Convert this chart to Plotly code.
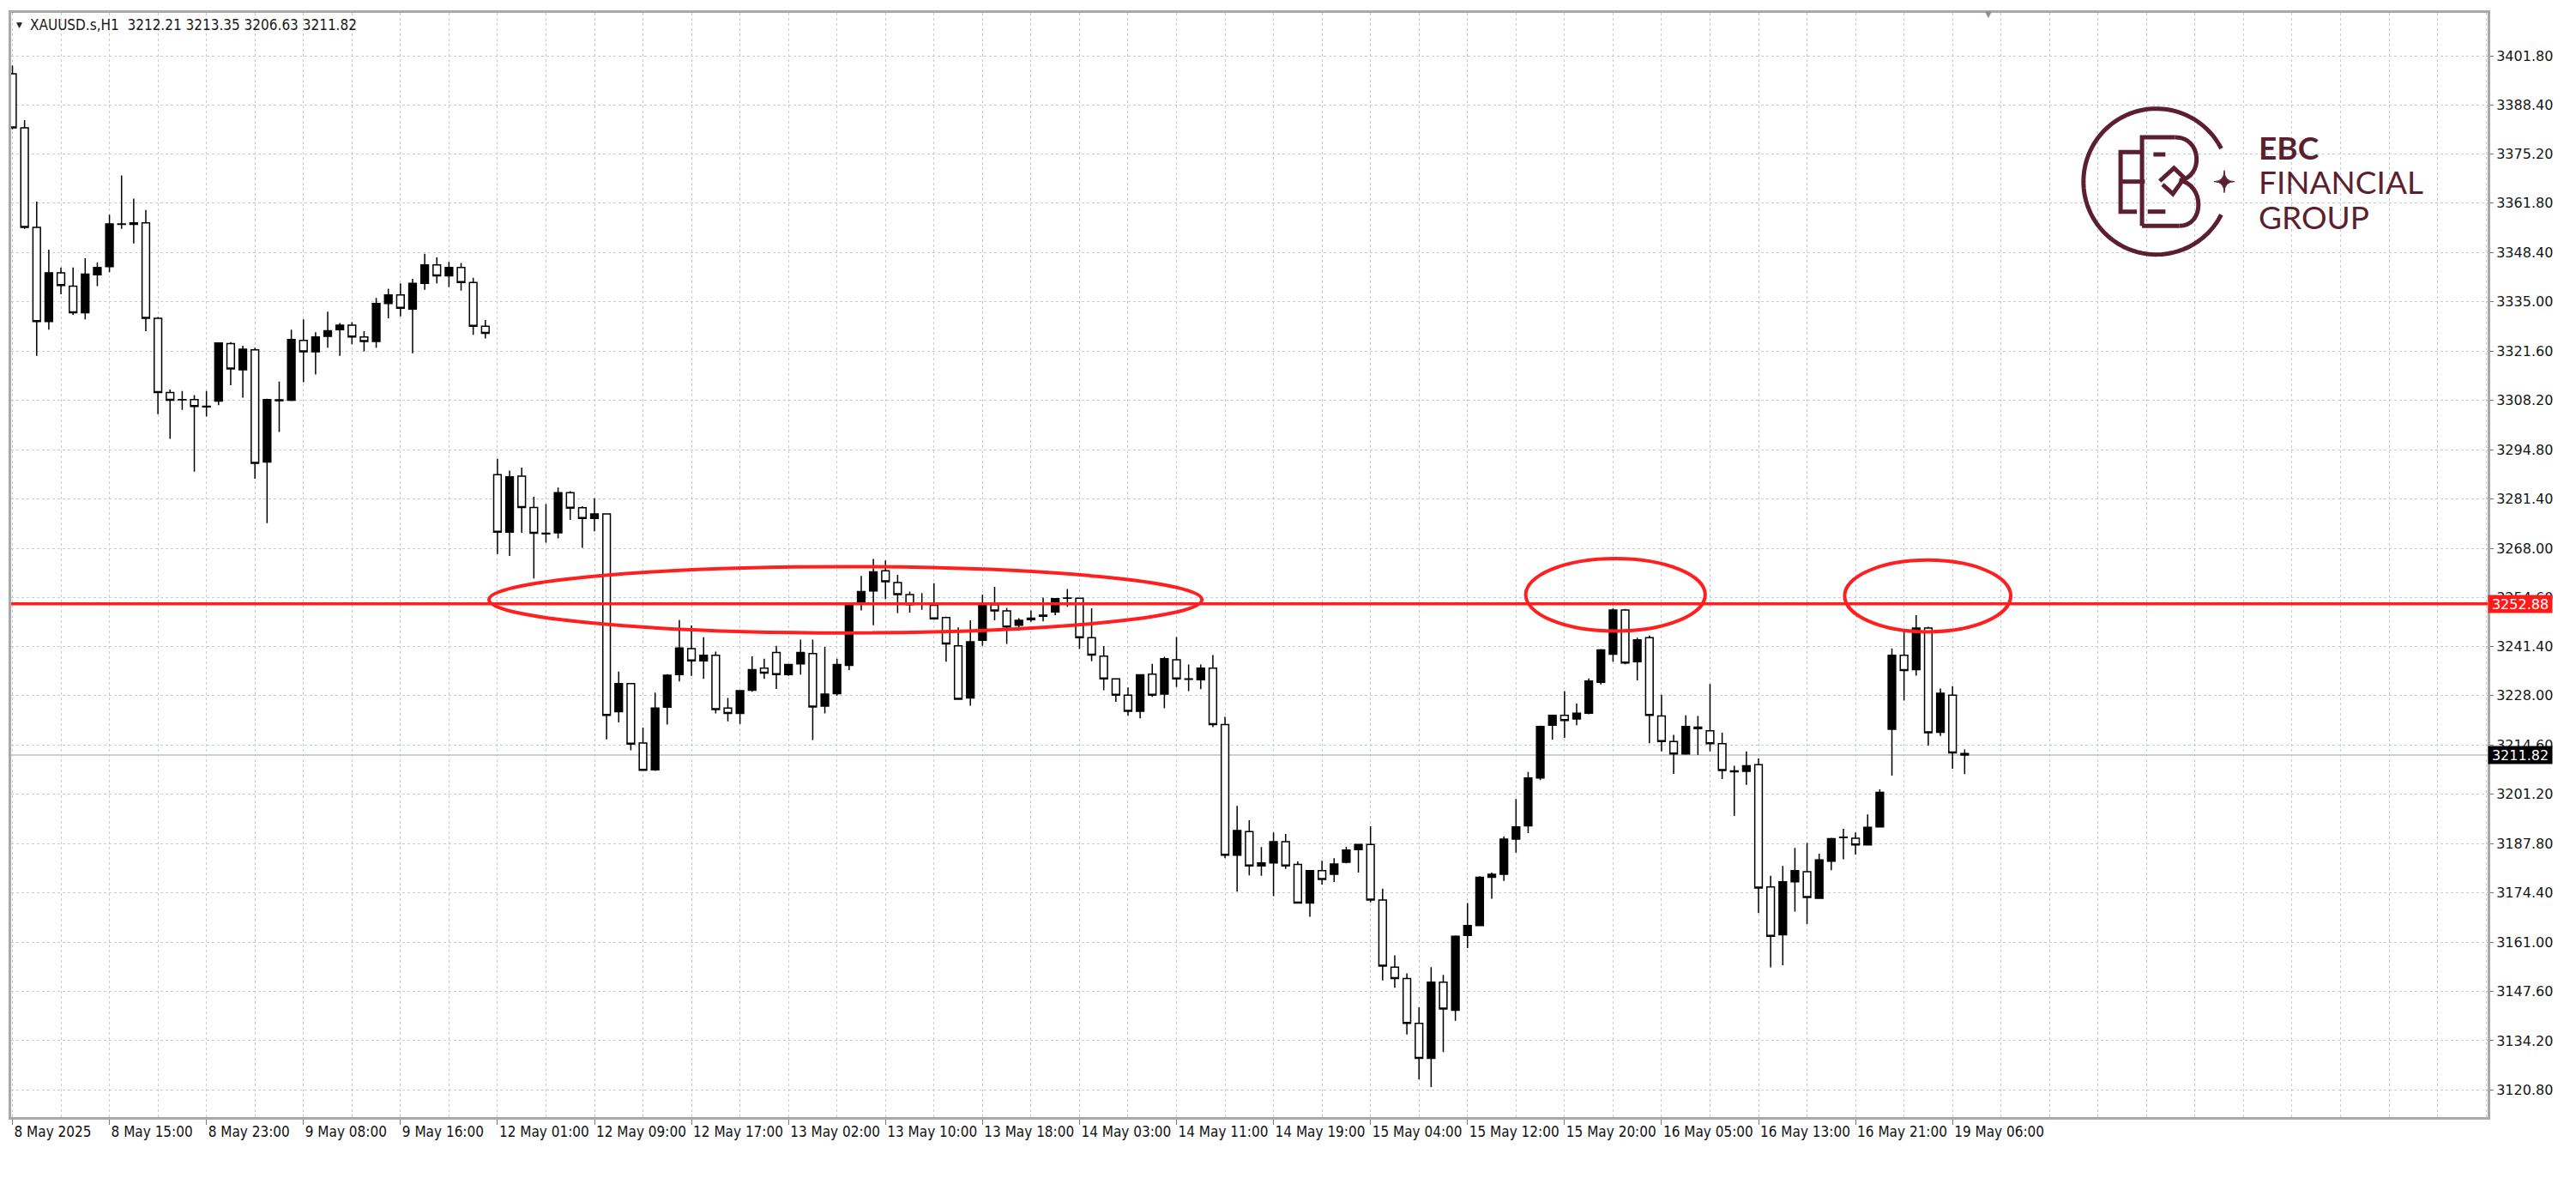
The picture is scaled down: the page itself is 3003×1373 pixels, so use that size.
import math
import plotly.graph_objects as go

# ---------------- data ----------------
x_labels = ["8 May 2025", "8 May 15:00", "8 May 23:00", "9 May 08:00", "9 May 16:00",
            "12 May 01:00", "12 May 09:00", "12 May 17:00", "13 May 02:00", "13 May 10:00",
            "13 May 18:00", "14 May 03:00", "14 May 11:00", "14 May 19:00", "15 May 04:00",
            "15 May 12:00", "15 May 20:00", "16 May 05:00", "16 May 13:00", "16 May 21:00",
            "19 May 06:00"]
y_labels = ["3401.80", "3388.40", "3375.20", "3361.80", "3348.40", "3335.00", "3321.60",
            "3308.20", "3294.80", "3281.40", "3268.00", "3254.60", "3241.40", "3228.00",
            "3214.60", "3201.20", "3187.80", "3174.40", "3161.00", "3147.60", "3134.20",
            "3120.80"]

opens = [3396.9, 3382.2, 3355.2, 3329.6, 3342.8, 3339.2, 3332.0, 3342.3, 3344.5, 3356.1,
         3356.0, 3356.4, 3330.5, 3310.3, 3308.3, 3308.4, 3306.6, 3308.0, 3323.6, 3316.5,
         3321.9, 3291.4, 3308.3, 3308.2, 3324.5, 3321.4, 3325.6, 3327.4, 3328.6, 3325.4,
         3324.2, 3334.5, 3336.8, 3333.0, 3340.0, 3345.0, 3342.0, 3344.3, 3340.2, 3328.3,
         3288.0, 3272.4, 3287.6, 3279.1, 3272.1, 3272.2, 3283.1, 3279.0, 3276.1, 3277.3,
         3223.6, 3231.2, 3215.1, 3207.8, 3224.8, 3233.7, 3240.7, 3237.4, 3238.9, 3224.6,
         3223.1, 3229.4, 3235.4, 3239.7, 3233.7, 3236.6, 3239.4, 3225.1, 3228.5, 3236.2,
         3253.1, 3256.4, 3261.9, 3258.7, 3255.4, 3253.0, 3252.5, 3249.2, 3241.5, 3227.3,
         3243.0, 3252.7, 3251.0, 3247.1, 3248.6, 3249.5, 3250.7, 3254.4, 3254.4, 3243.7,
         3238.7, 3232.5, 3228.1, 3223.7, 3233.8, 3228.4, 3237.7, 3232.5, 3232.3, 3235.4,
         3220.1, 3184.6, 3191.0, 3181.7, 3182.5, 3188.3, 3182.1, 3171.6, 3180.4, 3179.4,
         3182.7, 3186.1, 3187.5, 3172.4, 3154.2, 3151.1, 3138.9, 3129.4, 3150.1, 3142.5,
         3162.8, 3165.5, 3178.6, 3179.4, 3189.0, 3192.6, 3205.6, 3219.9, 3222.6, 3221.6,
         3223.2, 3231.6, 3239.2, 3251.2, 3237.2, 3243.7, 3222.4, 3215.5, 3212.1, 3219.4,
         3218.4, 3214.9, 3207.5, 3207.4, 3209.2, 3176.0, 3163.0, 3177.4, 3180.1, 3172.9,
         3183.0, 3189.4, 3189.2, 3187.4, 3192.3, 3218.8, 3238.9, 3235.0, 3246.3, 3218.0,
         3228.1, 3212.21]
highs = [3399.1, 3384.3, 3362.2, 3349.1, 3344.3, 3344.3, 3346.8, 3345.7, 3358.6, 3369.3,
         3363.0, 3359.9, 3330.8, 3311.1, 3310.7, 3309.6, 3310.7, 3323.9, 3324.0, 3323.0,
         3322.5, 3308.6, 3313.3, 3327.4, 3330.2, 3326.7, 3332.3, 3329.2, 3329.4, 3327.0,
         3336.0, 3338.5, 3340.0, 3341.2, 3348.0, 3347.0, 3345.8, 3345.5, 3341.5, 3330.0,
         3292.3, 3289.1, 3289.9, 3282.0, 3280.0, 3284.5, 3283.5, 3279.4, 3281.6, 3277.4,
         3234.5, 3231.3, 3219.3, 3228.8, 3233.8, 3248.5, 3247.0, 3243.8, 3239.9, 3227.3,
         3229.5, 3238.6, 3238.0, 3241.5, 3236.6, 3243.2, 3243.2, 3241.2, 3238.0, 3252.9,
         3260.5, 3265.1, 3264.7, 3260.8, 3256.2, 3255.8, 3258.5, 3249.4, 3246.5, 3248.4,
         3255.4, 3257.5, 3251.8, 3249.0, 3251.1, 3254.6, 3254.5, 3256.9, 3254.6, 3251.7,
         3241.4, 3232.6, 3230.2, 3233.8, 3236.6, 3238.5, 3243.9, 3236.4, 3236.4, 3239.0,
         3222.2, 3198.0, 3194.1, 3186.8, 3190.8, 3190.4, 3182.9, 3180.6, 3183.1, 3183.8,
         3186.9, 3187.6, 3192.5, 3175.5, 3157.4, 3152.5, 3143.3, 3154.2, 3152.1, 3162.8,
         3171.6, 3178.9, 3179.9, 3189.7, 3199.9, 3207.2, 3219.8, 3222.8, 3229.2, 3225.8,
         3232.6, 3240.6, 3251.7, 3251.5, 3243.7, 3244.3, 3228.2, 3217.3, 3222.6, 3222.4,
         3231.1, 3217.9, 3208.9, 3212.8, 3210.9, 3179.0, 3181.7, 3186.6, 3187.9, 3185.0,
         3189.3, 3191.8, 3190.8, 3195.7, 3202.5, 3240.8, 3245.5, 3249.8, 3246.7, 3229.9,
         3230.5, 3213.35]
lows = [3381.8, 3354.8, 3320.3, 3327.4, 3337.0, 3331.4, 3330.2, 3339.2, 3343.0, 3354.8,
        3350.8, 3327.0, 3304.4, 3297.7, 3305.6, 3288.8, 3303.8, 3306.9, 3312.3, 3308.9,
        3286.9, 3274.8, 3299.6, 3308.0, 3313.1, 3315.2, 3322.5, 3320.3, 3323.4, 3321.5,
        3322.5, 3330.5, 3331.0, 3321.0, 3338.2, 3340.0, 3339.0, 3338.0, 3326.0, 3325.0,
        3266.4, 3265.9, 3272.2, 3259.8, 3269.5, 3270.7, 3275.7, 3268.1, 3272.6, 3216.1,
        3220.7, 3213.1, 3207.5, 3207.5, 3220.1, 3231.8, 3233.3, 3232.5, 3223.1, 3221.0,
        3220.3, 3229.0, 3232.5, 3229.8, 3233.3, 3233.7, 3215.9, 3223.1, 3227.9, 3234.9,
        3251.1, 3247.1, 3254.2, 3250.4, 3250.5, 3251.3, 3248.6, 3237.2, 3226.8, 3225.2,
        3241.5, 3248.4, 3242.0, 3245.7, 3248.0, 3248.1, 3249.8, 3252.1, 3240.6, 3237.3,
        3229.4, 3226.3, 3222.5, 3221.8, 3227.6, 3224.5, 3230.3, 3229.2, 3229.7, 3219.4,
        3183.8, 3174.7, 3179.1, 3179.0, 3173.5, 3180.9, 3171.5, 3167.9, 3176.6, 3177.3,
        3182.4, 3179.9, 3171.8, 3150.6, 3148.6, 3135.9, 3123.7, 3121.6, 3131.1, 3139.6,
        3159.4, 3165.3, 3172.8, 3177.6, 3185.3, 3190.6, 3205.0, 3216.0, 3216.5, 3219.9,
        3222.9, 3231.0, 3237.2, 3236.5, 3232.1, 3215.0, 3212.8, 3206.7, 3211.9, 3211.8,
        3212.8, 3205.3, 3195.3, 3203.7, 3168.9, 3154.1, 3154.7, 3169.3, 3165.9, 3172.7,
        3180.5, 3183.5, 3184.8, 3187.2, 3192.1, 3206.2, 3226.6, 3233.4, 3214.4, 3217.0,
        3208.1, 3206.63]
closes = [3382.2, 3355.2, 3329.6, 3342.8, 3339.4, 3332.0, 3342.5, 3344.3, 3356.1, 3356.0,
          3356.4, 3330.5, 3310.3, 3308.2, 3308.4, 3306.5, 3306.4, 3323.8, 3316.7, 3322.1,
          3291.1, 3308.4, 3308.1, 3324.7, 3321.4, 3325.4, 3327.1, 3328.6, 3325.4, 3324.2,
          3334.5, 3336.8, 3333.2, 3340.0, 3345.0, 3342.0, 3344.3, 3340.2, 3328.3, 3326.4,
          3272.4, 3287.4, 3279.1, 3272.1, 3271.9, 3283.1, 3278.9, 3276.1, 3277.3, 3222.6,
          3231.2, 3214.8, 3207.7, 3224.6, 3233.5, 3240.9, 3237.4, 3238.9, 3224.2, 3223.1,
          3229.3, 3235.0, 3234.1, 3233.7, 3236.4, 3239.7, 3224.9, 3228.4, 3236.4, 3252.5,
          3256.2, 3261.6, 3258.9, 3255.4, 3252.7, 3252.8, 3248.8, 3242.0, 3227.0, 3242.6,
          3252.9, 3251.0, 3246.6, 3248.4, 3249.0, 3249.8, 3254.3, 3254.5, 3243.7, 3239.0,
          3232.5, 3228.1, 3223.7, 3233.6, 3228.1, 3238.0, 3232.5, 3232.4, 3235.4, 3220.1,
          3184.6, 3191.3, 3181.7, 3182.5, 3188.3, 3181.7, 3171.6, 3180.4, 3178.0, 3182.2,
          3186.0, 3187.5, 3172.4, 3154.5, 3151.1, 3138.9, 3129.4, 3150.1, 3142.8, 3162.6,
          3165.5, 3178.6, 3179.4, 3189.0, 3192.3, 3205.6, 3219.6, 3222.6, 3221.2, 3223.2,
          3231.9, 3240.4, 3251.2, 3236.8, 3243.1, 3222.6, 3215.5, 3212.1, 3219.6, 3219.0,
          3214.9, 3207.6, 3207.3, 3208.9, 3175.7, 3162.6, 3177.4, 3180.4, 3173.1, 3183.3,
          3189.1, 3189.5, 3187.4, 3192.2, 3201.7, 3238.9, 3234.8, 3246.3, 3217.9, 3228.6,
          3212.4, 3211.82]

level_price = 3252.88
last_price = 3211.82
symbol_header = "XAUUSD.s,H1\u00a0\u00a03212.21 3213.35 3206.63 3211.82"

# ------------- annotation geometry (not data) -------------
# red ellipses: (bar_left, bar_right, price_low, price_high)
ellipses = [(39.3, 98.1, 3245.0, 3263.0),
            (124.8, 139.6, 3245.5, 3265.2),
            (151.1, 164.8, 3245.3, 3264.8)]

bars = list(range(len(opens)))
label_bars = bars[::8][:len(x_labels)]
y_vals = [float(v) for v in y_labels]

W, H = 3003, 1373
ML, MR, MT, MB = 10, 103, 15, 71
PW, PH = W - ML - MR, H - MT - MB


def px(x):
    return (x - ML) / PW


def py(y):
    return 1 - (y - MT) / PH


GRID = "#c3cbd6"
MAROON = "#5c1f2f"

fig = go.Figure(go.Candlestick(
    x=bars, open=opens, high=highs, low=lows, close=closes,
    increasing=dict(line=dict(color="black", width=1.5), fillcolor="black"),
    decreasing=dict(line=dict(color="black", width=1.5), fillcolor="white"),
    whiskerwidth=0, showlegend=False,
))

shapes = []
# bid line
shapes.append(dict(type="line", xref="paper", x0=0, x1=1, yref="y", y0=last_price, y1=last_price,
                   line=dict(color="#b9c1cc", width=1.5), layer="below"))
# horizontal resistance line
shapes.append(dict(type="line", xref="paper", x0=0, x1=1, yref="y", y0=level_price, y1=level_price,
                   line=dict(color="#ff1f1f", width=3.5)))
for (x0, x1, y0, y1) in ellipses:
    shapes.append(dict(type="circle", xref="x", yref="y", x0=x0, x1=x1, y0=y0, y1=y1,
                       line=dict(color="#ff1f1f", width=4)))


# ---- logo (drawn in pixel units of a 3x zoom frame anchored at (2400,100)) ----
def L(X, Y):
    return px(2400 + X / 3.0), py(100 + Y / 3.0)


def path(points, close=False):
    s = ""
    for i, (X, Y) in enumerate(points):
        a, b = L(X, Y)
        s += ("M" if i == 0 else "L") + f"{a:.6f},{b:.6f} "
    if close:
        s += "Z"
    return s


arc = []
for k in range(0, 121):
    th = math.radians(27 + (333 - 27) * k / 120)
    arc.append((340 + 255 * math.cos(th), 335 - 255 * math.sin(th)))
logo_lines = [
    arc,
    [(272, 440), (215, 440), (215, 232), (290, 232)],
    [(215, 335), (300, 335)],
    [(330, 240), (372, 240)],
    [(310, 440), (372, 440)],
    [(290, 490), (290, 180), (405, 180)],
    [(290, 490), (420, 490)],
    [(352, 333), (402, 288), (438, 322), (398, 378), (362, 345)],
]
for pts in logo_lines:
    shapes.append(dict(type="path", xref="paper", yref="paper", path=path(pts),
                       line=dict(color=MAROON, width=5)))


def curve(p0, c1, c2, p3):
    a = L(*p0); b = L(*c1); c = L(*c2); d = L(*p3)
    return (f"M{a[0]:.6f},{a[1]:.6f} C{b[0]:.6f},{b[1]:.6f} {c[0]:.6f},{c[1]:.6f} "
            f"{d[0]:.6f},{d[1]:.6f}")


shapes.append(dict(type="path", xref="paper", yref="paper",
                   path=curve((405, 180), (500, 180), (505, 315), (425, 330)),
                   line=dict(color=MAROON, width=5)))
shapes.append(dict(type="path", xref="paper", yref="paper",
                   path=curve((420, 330), (510, 345), (510, 490), (420, 490)),
                   line=dict(color=MAROON, width=5)))
# sparkle
c0 = L(578, 335)
t = L(578, 296); r = L(614, 335); b_ = L(578, 374); l_ = L(542, 335)
spark = (f"M{t[0]:.6f},{t[1]:.6f} Q{c0[0]:.6f},{c0[1]:.6f} {r[0]:.6f},{r[1]:.6f} "
         f"Q{c0[0]:.6f},{c0[1]:.6f} {b_[0]:.6f},{b_[1]:.6f} "
         f"Q{c0[0]:.6f},{c0[1]:.6f} {l_[0]:.6f},{l_[1]:.6f} "
         f"Q{c0[0]:.6f},{c0[1]:.6f} {t[0]:.6f},{t[1]:.6f} Z")
shapes.append(dict(type="path", xref="paper", yref="paper", path=spark,
                   fillcolor=MAROON, line=dict(color=MAROON, width=1)))

annotations = []
COND = "DejaVu Sans Condensed, Liberation Sans Narrow, Arial Narrow, sans-serif"
annotations.append(dict(xref="paper", yref="paper", x=px(14), y=py(29), xanchor="left",
                        yanchor="middle", showarrow=False, text="\u25bc",
                        font=dict(family="DejaVu Sans", size=9, color="#222")))
annotations.append(dict(xref="paper", yref="paper", x=px(30), y=py(29), xanchor="left",
                        yanchor="middle", showarrow=False, text=symbol_header,
                        font=dict(family=COND, size=17, color="#1a1a1a")))
annotations.append(dict(xref="paper", yref="paper", x=px(2317), y=py(17), xanchor="center",
                        yanchor="middle", showarrow=False, text="\u25bc",
                        font=dict(family="DejaVu Sans", size=10, color="#8a9099")))
# price labels on axis
annotations.append(dict(xref="paper", yref="y", x=1.0, y=level_price, xanchor="left",
                        yanchor="middle", showarrow=False, text=f"{level_price:.2f}",
                        bgcolor="#ff1a1a", width=74, height=20, borderpad=0,
                        font=dict(family="DejaVu Sans", size=16, color="white")))
annotations.append(dict(xref="paper", yref="y", x=1.0, y=last_price, xanchor="left",
                        yanchor="middle", showarrow=False, text=f"{last_price:.2f}",
                        bgcolor="#000000", width=74, height=20, borderpad=0,
                        font=dict(family="DejaVu Sans", size=16, color="white")))
# logo text
for txt, ypix, wt in [("EBC", 171, "bold"), ("FINANCIAL", 211, "normal"), ("GROUP", 252, "normal")]:
    annotations.append(dict(xref="paper", yref="paper", x=px(2631), y=py(ypix), xanchor="left",
                            yanchor="middle", showarrow=False, text=txt, height=34,
                            font=dict(family="Lato", size=37, color=MAROON, weight=wt)))

fig.update_layout(
    width=W, height=H,
    margin=dict(l=ML, r=MR, t=MT, b=MB, pad=0),
    paper_bgcolor="white", plot_bgcolor="white",
    boxgap=0.38, boxgroupgap=0,
    shapes=shapes, annotations=annotations,
    showlegend=False,
    xaxis=dict(
        range=[-0.106, 204.13], rangeslider=dict(visible=False),
        tickmode="array", tickvals=label_bars, ticktext=x_labels,
        ticks="outside", ticklen=6, tickcolor="#777", tickwidth=1,
        ticklabelposition="outside right", tickangle=0,
        tickfont=dict(family=COND, size=17, color="#111"),
        showgrid=True, gridcolor=GRID, griddash="dot", gridwidth=1,
        minor=dict(tickmode="linear", tick0=0, dtick=4, showgrid=True, gridcolor=GRID,
                   griddash="dot", gridwidth=1, ticks=""),
        showline=True, linecolor="#a9a9a9", linewidth=3, mirror=True,
        zeroline=False, fixedrange=True,
    ),
    yaxis=dict(
        range=[3113.45, 3413.46], side="right",
        tickmode="array", tickvals=y_vals, ticktext=y_labels,
        ticks="outside", ticklen=4, tickcolor="#777", tickwidth=1,
        tickfont=dict(family="DejaVu Sans", size=16, color="#151515"),
        showgrid=True, gridcolor=GRID, griddash="dot", gridwidth=1,
        showline=True, linecolor="#a9a9a9", linewidth=3, mirror=True,
        zeroline=False, fixedrange=True,
    ),
)

fig.write_html("out.html", config={"displayModeBar": False},
               post_script="document.body.style.margin='0';")
